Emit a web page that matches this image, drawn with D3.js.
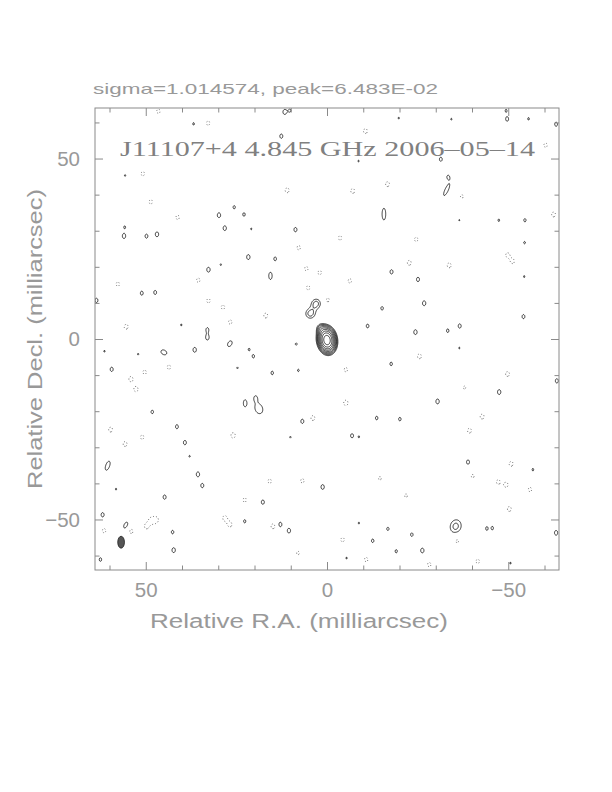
<!DOCTYPE html>
<html><head><meta charset="utf-8">
<script src="https://cdn.jsdelivr.net/npm/d3@7"></script>
<style>body{margin:0;background:#fff}svg{display:block}</style>
</head><body>
<svg id="c" width="612" height="792"></svg>
<script>
// ---------- data (mas, mJy/beam) ----------
const titleText = "J11107+4 4.845 GHz 2006\u201305\u201314";
const statsText = "sigma=1.014574, peak=6.483E-02";
const xLabel = "Relative R.A. (milliarcsec)";
const yLabel = "Relative Decl. (milliarcsec)";
const majorTicks = [50, 0, -50];
const minorTicks = [60, 40, 30, 20, 10, -10, -20, -30, -40, -60];
const posLevels = [3.04, 4.30, 6.09, 8.61, 12.18, 17.22, 24.35, 34.44, 48.70];
const negLevels = [3.04];
// source components: x, y, peak, sigmaMaj, sigmaMin, PA(deg)
const sourceComponents = [
  [0.0, -0.3, 64.0, 1.75, 1.2, 8],
  [1.6, 2.8, 5.0, 1.0, 0.9, 20],
  [3.0, 9.8, 4.9, 1.25, 1.2, -20],
  [4.6, 7.0, 4.9, 1.25, 1.25, -20]
];
// extended noise islands: x, y, peak, sigmaMaj, sigmaMin, PA
const extendedIslands = [
  [-33.0, 41.3, 4.1, 2.2, 0.6, -25],
  [-15.7, 34.6, 4.1, 2.1, 0.65, 0],
  [60.5, -35.1, 4.1, 1.7, 0.7, -20],
  [55.5, -51.6, 4.1, 1.2, 0.65, -25],
  [26.8, -1.3, 4.1, 1.1, 0.7, -30],
  [-35.5, -51.9, 4.8, 1.9, 1.55, -15],
  [18.8, -19.3, 4.15, 1.8, 1.3, 20],
  [45.0, -3.7, 4.1, 1.1, 0.8, 60],
  [15.6, 17.5, 4.1, 1.3, 0.6, 0],
  [22.6, -17.8, 4.1, 1.2, 0.6, 0],
  [-44.1, -52.5, 3.9, 0.75, 0.45, 0],
  [-45.6, -52.4, 3.8, 0.75, 0.45, 0]
];
// compact positive islands: x, y, peak
const posIslands = [
  [11.7,62.9,4.1],[10.2,63.3,3.3],[29.8,34.3,4.15],[28.2,30.7,4.1],[25.6,36.5,3.5],[22.9,34.5,3.6],[8.7,30.3,3.9],
  [56.0,28.5,4.1],[55.8,31.0,3.3],[49.8,28.5,3.8],[46.9,29.0,4.15],[21.7,22.7,4.15],[14.3,22.2,3.7],[32.7,19.2,4.15],
  [51.1,12.7,3.8],[47.4,12.9,3.8],[63.6,10.7,3.9],[33.0,2.6,3.7],[33.0,0.4,4.15],[36.8,59.6,3.3],[55.7,45.3,3.2],
  [20.9,30.5,3.2],[29.3,20.6,3.2],[40.2,3.9,3.2],[12.6,56.2,3.9],
  [-49.7,60.9,3.8],[-49.4,63.3,3.3],[-55.6,61.0,3.3],[-34.3,60.9,3.2],[-19.8,61.2,3.2],[-31.4,49.8,3.8],[-8.7,49.3,3.2],
  [-33.4,44.9,3.5],[-47.4,32.9,3.3],[-54.6,32.9,3.5],[-54.5,26.7,3.3],[-54.4,17.3,3.2],[-17.8,18.6,3.9],[-25.1,16.5,3.9],
  [-26.8,9.9,4.15],[-15.2,8.5,3.6],[-11.2,3.6,3.7],[-24.4,1.9,4.15],[-33.3,2.3,3.6],[-36.6,3.6,3.9],[-54.2,6.2,3.8],
  [-63.2,59.5,3.8],[-36.5,32.9,3.15],
  [36.5,-3.0,4.15],[61.4,-3.4,3.2],[52.1,-4.2,3.2],[59.4,-8.4,3.9],[21.5,-2.9,3.3],[20.3,-4.8,3.5],[8.5,-1.4,3.3],
  [24.7,-8.0,3.2],[15.1,-9.4,3.6],[7.9,-8.7,3.3],[19.7,-16.3,3.2],[48.2,-20.2,3.6],[6.8,-22.8,3.9],[41.4,-24.3,3.8],
  [39.2,-28.7,3.9],[10.1,-27.2,3.2],[37.9,-32.5,3.2],[35.6,-37.5,4.15],[34.4,-40.6,3.9],[1.2,-41.0,4.1],[44.8,-43.8,3.9],
  [17.7,-45.2,3.9],[61.9,-48.7,3.9],[58.2,-41.6,3.2],[42.6,-53.5,3.6],[22.7,-50.5,3.5],[12.9,-51.4,4.15],[10.5,-53.1,4.1],
  [42.3,-58.5,4.15],[62.5,-61.1,3.6],
  [-36.5,-2.5,3.2],[-17.7,-6.9,3.6],[-37.0,-11.4,3.2],[-47.5,-14.7,4.15],[-30.5,-17.3,4.15],[-13.7,-21.9,3.6],[-20.1,-22.2,3.6],
  [-6.9,-26.8,3.8],[-8.8,-27.1,3.2],[-38.9,-34.1,3.9],[-56.8,-36.2,3.3],[-63.4,-11.6,3.9],[-63.2,-53.7,4.1],
  [-16.8,-52.6,3.5],[-23.4,-54.2,3.6],[-12.6,-55.9,3.6],[-19.1,-58.8,3.5],[-26.3,-58.6,4.1],[-8.8,-51.0,3.2],
  [-5.4,-60.7,3.2],[-50.6,-62.1,3.2]
];
// negative islands: x, y, peak (mJy, negative)
const negIslands = [
  [11.0,41.2,-3.8],[55.4,3.4,-3.8],[16.9,6.5,-3.8],[50.8,45.8,-3.6],[32.8,59.8,-3.6],[46.5,63.1,-3.6],[7.8,25.3,-3.6],
  [5.7,19.5,-3.6],[5.2,14.2,-3.6],[28.7,8.8,-3.6],[26.7,4.7,-3.6],[41.2,33.7,-3.6],[48.6,38.0,-3.6],[57.7,15.2,-3.6],
  [35.5,16.3,-3.6],[32.7,10.6,-3.6],[2.0,18.4,-3.6],
  [-10.6,57.6,-3.8],[-7.1,41.0,-3.8],[-16.7,42.9,-3.8],[-3.6,28.0,-3.6],[-24.6,27.6,-3.6],[-22.7,21.1,-3.8],[-33.7,20.4,-3.8],
  [-6.3,16.1,-3.6],[-51.2,21.5,-3.6],[-49.8,23.3,-3.6],[-62.5,34.5,-3.8],[-60.3,53.7,-3.6],[-0.2,10.8,-3.6],[-37.2,39.5,-3.4],
  [54.1,-11.1,-3.9],[52.7,-13.9,-3.9],[50.3,-9.2,-3.6],[43.6,-7.8,-3.6],[59.7,-25.1,-3.8],[55.7,-29.1,-3.8],[51.0,-27.2,-3.6],
  [25.9,-26.7,-4.0],[3.9,-21.9,-3.8],[22.7,-44.6,-3.6],[15.8,-39.4,-3.6],[6.8,-39.3,-3.6],[48.5,-50.3,-3.8],[47.1,-50.1,-3.8],
  [49.8,-51.9,-3.8],[28.2,-49.6,-3.8],[26.8,-51.4,-3.8],[14.9,-51.9,-3.8],[54.0,-53.3,-3.6],[61.5,-53.1,-3.6],[8.0,-59.3,-3.4],
  [-5.2,-8.5,-3.6],[-25.5,-4.8,-3.8],[-49.8,-9.7,-3.8],[-5.2,-17.7,-4.0],[-42.8,-21.5,-3.8],[-39.3,-25.4,-3.8],[-37.9,-13.4,-3.4],
  [-50.8,-34.6,-3.8],[-49.4,-40.4,-3.8],[-56.0,-41.7,-3.6],[-50.3,-47.1,-3.8],[-47.2,-39.6,-3.6],[-40.2,-38.0,-3.4],
  [-21.8,-43.4,-3.4],[-14.6,-38.6,-3.4],[-35.9,-55.9,-3.8],[-10.8,-61.1,-3.6],[-28.2,-62.5,-3.6],[-41.6,-61.6,-3.6],[-4.3,-55.6,-3.6]
];
const islandShape = [0.85, 0.58, 0]; // sigmaMaj, sigmaMin, PA for compact positive islands
const negShape = [1.0, 0.8, 0];      // same for negative islands
const beam = [56.8, -56.3, 3.3, 1.85, 0]; // x, y, FWHM maj, FWHM min, PA

// ---------- layout ----------
const svg = d3.select("#c");
const xs = d3.scaleLinear().domain([64, -64]).range([95, 559]);
const ys = d3.scaleLinear().domain([-64, 64]).range([570, 108]);
const gray = "#8a8a8a";
const textGray = "#999";
const sansFont = "'Liberation Sans', Arial, sans-serif";

// ---------- grid ----------
const EXT = 64, STEP = 0.2, N = Math.round(2 * EXT / STEP);
const grid = new Float64Array(N * N);
function addGauss(x0, y0, amp, sMaj, sMin, pa) {
  const r = pa * Math.PI / 180, s = Math.sin(r), c = Math.cos(r);
  const R = 5 * Math.max(sMaj, sMin);
  const i0 = Math.max(0, Math.floor((EXT - (x0 + R)) / STEP)), i1 = Math.min(N - 1, Math.ceil((EXT - (x0 - R)) / STEP));
  const j0 = Math.max(0, Math.floor((EXT - (y0 + R)) / STEP)), j1 = Math.min(N - 1, Math.ceil((EXT - (y0 - R)) / STEP));
  for (let j = j0; j <= j1; j++) {
    const y = EXT - (j + 0.5) * STEP, dy = y - y0;
    for (let i = i0; i <= i1; i++) {
      const x = EXT - (i + 0.5) * STEP, dx = x - x0;
      const u = dx * s + dy * c, v = dx * c - dy * s;
      grid[j * N + i] += amp * Math.exp(-0.5 * (u * u / (sMaj * sMaj) + v * v / (sMin * sMin)));
    }
  }
}
sourceComponents.forEach(d => addGauss(...d));
extendedIslands.forEach(d => addGauss(...d));
posIslands.forEach(d => addGauss(d[0], d[1], d[2], ...islandShape));
negIslands.forEach(d => addGauss(d[0], d[1], d[2], ...negShape));

const proj = d3.geoTransform({
  point(cx, cy) { this.stream.point(xs(EXT - cx * STEP), ys(EXT - cy * STEP)); }
});
const path = d3.geoPath(proj);

svg.append("defs").append("clipPath").attr("id", "clip")
  .append("rect").attr("x", 95).attr("y", 108).attr("width", 464).attr("height", 462);

const plot = svg.append("g").attr("clip-path", "url(#clip)");

const posC = d3.contours().size([N, N]).thresholds(posLevels)(grid);
plot.append("g").selectAll("path").data(posC).join("path")
  .attr("d", path).attr("fill", "none").attr("stroke", "#000").attr("stroke-width", 0.75);

const negGrid = grid.map(v => -v);
const negC = d3.contours().size([N, N]).thresholds(negLevels)(negGrid);
plot.append("g").selectAll("path").data(negC).join("path")
  .attr("d", path).attr("fill", "none").attr("stroke", "#666").attr("stroke-width", 1)
  .attr("stroke-dasharray", "1 2");

// beam
plot.append("ellipse")
  .attr("cx", xs(beam[0])).attr("cy", ys(beam[1]))
  .attr("rx", Math.abs(xs(beam[3] / 2) - xs(0))).attr("ry", Math.abs(ys(beam[2] / 2) - ys(0)))
  .attr("fill", "#555").attr("stroke", "#222").attr("stroke-width", 0.8);

// ---------- frame & axes ----------
svg.append("rect").attr("x", 95).attr("y", 108).attr("width", 464).attr("height", 462)
  .attr("fill", "none").attr("stroke", gray).attr("stroke-width", 1);

function styleAxis(g) {
  g.select(".domain").remove();
  g.selectAll("line").attr("stroke", gray);
  g.selectAll("text").attr("fill", textGray).attr("font-family", sansFont).attr("font-size", 20.5);
}
// minor ticks
svg.append("g").attr("transform", "translate(0,570)").call(d3.axisBottom(xs).tickValues(minorTicks).tickSize(-4.5).tickFormat("")).call(styleAxis);
svg.append("g").attr("transform", "translate(0,108)").call(d3.axisTop(xs).tickValues(minorTicks).tickSize(-4.5).tickFormat("")).call(styleAxis);
svg.append("g").attr("transform", "translate(95,0)").call(d3.axisLeft(ys).tickValues(minorTicks).tickSize(-4.5).tickFormat("")).call(styleAxis);
svg.append("g").attr("transform", "translate(559,0)").call(d3.axisRight(ys).tickValues(minorTicks).tickSize(-4.5).tickFormat("")).call(styleAxis);
// major ticks with labels
svg.append("g").attr("transform", "translate(0,570)").call(d3.axisBottom(xs).tickValues(majorTicks).tickSize(-8).tickPadding(12)).call(styleAxis);
svg.append("g").attr("transform", "translate(0,108)").call(d3.axisTop(xs).tickValues(majorTicks).tickSize(-8).tickFormat("")).call(styleAxis);
svg.append("g").attr("transform", "translate(95,0)").call(d3.axisLeft(ys).tickValues(majorTicks).tickSize(-8).tickPadding(15)).call(styleAxis);
svg.append("g").attr("transform", "translate(559,0)").call(d3.axisRight(ys).tickValues(majorTicks).tickSize(-8).tickFormat("")).call(styleAxis);

// ---------- texts ----------
svg.append("text").attr("x", 150).attr("y", 628).text(xLabel)
  .attr("fill", textGray).attr("font-family", sansFont).attr("font-size", 20)
  .attr("textLength", 298).attr("lengthAdjust", "spacingAndGlyphs");
svg.append("text").attr("transform", "translate(42,339) rotate(-90)").attr("text-anchor", "middle").text(yLabel)
  .attr("fill", textGray).attr("font-family", sansFont).attr("font-size", 20)
  .attr("textLength", 300).attr("lengthAdjust", "spacingAndGlyphs");
svg.append("text").attr("x", 93).attr("y", 94).text(statsText)
  .attr("fill", textGray).attr("font-family", sansFont).attr("font-size", 15)
  .attr("textLength", 345).attr("lengthAdjust", "spacingAndGlyphs");
svg.append("text").attr("x", 120).attr("y", 156).text(titleText)
  .attr("fill", "#808080").attr("font-family", "'Liberation Serif', 'DejaVu Serif', serif").attr("font-size", 22)
  .attr("textLength", 415).attr("lengthAdjust", "spacingAndGlyphs");
</script>
</body></html>
